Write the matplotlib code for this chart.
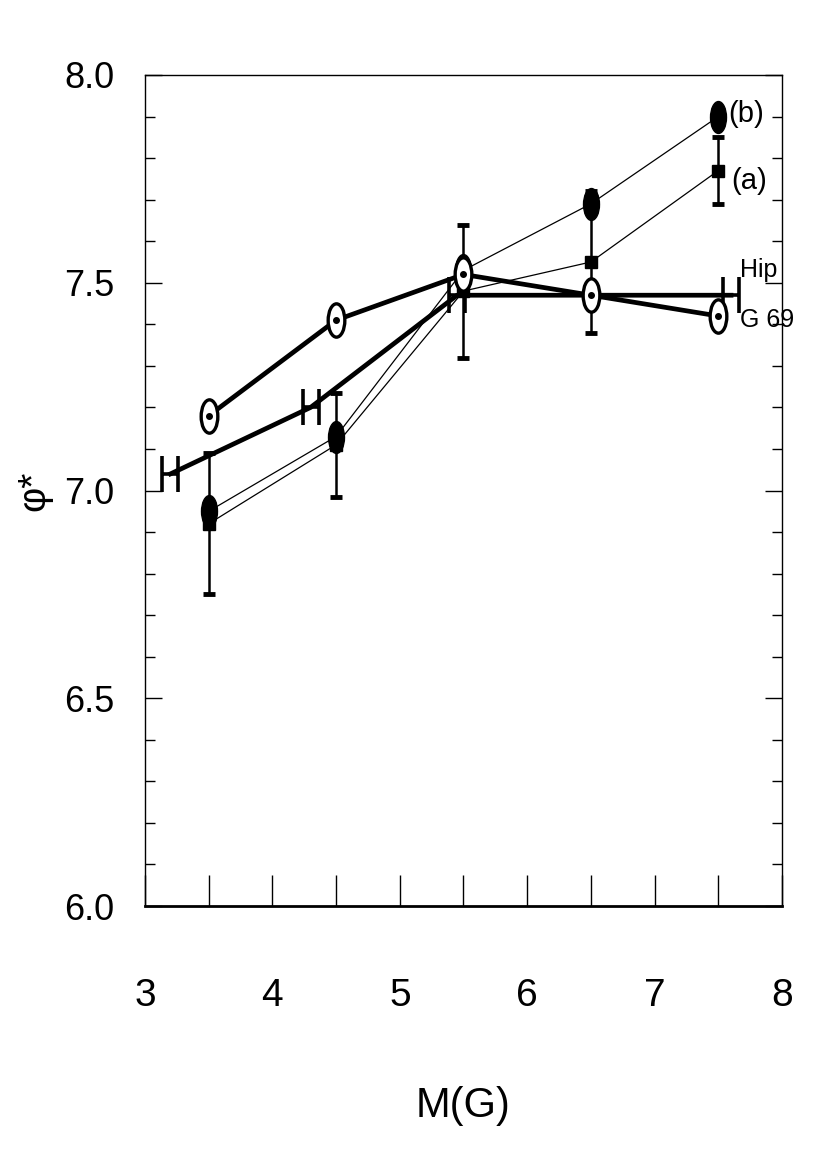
import matplotlib
matplotlib.use("Agg")
import matplotlib.pyplot as plt
from matplotlib.path import Path
from matplotlib.transforms import Affine2D
from matplotlib.ticker import MultipleLocator, FormatStrFormatter

plt.rcParams['font.family'] = ['Liberation Sans Narrow', 'Liberation Sans', 'DejaVu Sans']

# data
mg = [3.5, 4.5, 5.5, 6.5, 7.5]
phi_a = [6.92, 7.11, 7.48, 7.55, 7.77]
err_a = [0.17, 0.125, 0.16, 0.17, 0.08]
phi_b = [6.95, 7.13, 7.53, 7.69, 7.90]
phi_g69 = [7.18, 7.41, 7.52, 7.47, 7.42]
mg_hip = [3.2, 4.3, 5.45, 7.6]
phi_hip = [7.04, 7.20, 7.47, 7.47]

# marker shapes
ellipse = Path.unit_circle().transformed(Affine2D().scale(0.5, 1.0))
h_mark = Path([(-0.45, -1), (-0.45, 1), (0.45, -1), (0.45, 1), (-0.45, 0), (0.45, 0)],
              [Path.MOVETO, Path.LINETO, Path.MOVETO, Path.LINETO, Path.MOVETO, Path.LINETO])

fig = plt.figure(figsize=(8.27, 11.70), dpi=100)
ax = fig.add_axes([0.1753, 0.2256, 0.7703, 0.7103])

# Hipparcos
ax.plot(mg_hip, phi_hip, color='black', lw=3.4, marker=h_mark, ms=26,
        mfc='none', mec='black', mew=2.6, zorder=3)

# G 69 (open circles with central dot)
ax.plot(mg, phi_g69, color='black', lw=3.4, marker=ellipse, ms=24,
        mfc='white', mec='black', mew=2.4, zorder=4)
ax.plot(mg, phi_g69, ls='none', marker='o', ms=4, color='black', zorder=5)

# (a) with error bars
ax.errorbar(mg, phi_a, yerr=err_a, color='black', lw=0.9, elinewidth=1.8,
            capsize=4, capthick=3.5, marker='s', ms=8, zorder=3)

# (b)
ax.plot(mg, phi_b, color='black', lw=0.9, marker=ellipse, ms=23,
        mfc='black', mec='black', zorder=3)

ax.text(7.58, 7.905, '(b)', fontsize=21, ha='left', va='center')
ax.text(7.60, 7.745, '(a)', fontsize=21, ha='left', va='center')
ax.text(7.67, 7.53, 'Hip', fontsize=18, ha='left', va='center')
ax.text(7.67, 7.41, 'G 69', fontsize=18, ha='left', va='center')

ax.set_xlim(3, 8)
ax.set_ylim(6.0, 8.0)
ax.xaxis.set_major_locator(MultipleLocator(1))
ax.xaxis.set_minor_locator(MultipleLocator(0.5))
ax.yaxis.set_major_locator(MultipleLocator(0.5))
ax.yaxis.set_minor_locator(MultipleLocator(0.1))
ax.yaxis.set_major_formatter(FormatStrFormatter('%.1f'))

ax.tick_params(axis='x', which='both', direction='in', length=22, width=1.0,
               pad=52, labelsize=28, top=False)
ax.tick_params(axis='y', which='major', direction='in', length=12, width=1.0,
               pad=22, labelsize=26, right=True)
ax.tick_params(axis='y', which='minor', direction='in', length=7, width=1.0, right=True)

for side in ['left', 'right', 'top']:
    ax.spines[side].set_linewidth(1.0)
ax.spines['bottom'].set_linewidth(2.0)

ax.set_xlabel('M(G)', fontsize=30, labelpad=52)
ax.set_ylabel('φ*', fontsize=28)
ax.yaxis.set_label_coords(-0.145, 0.5)

fig.savefig('out.png', dpi=100)
